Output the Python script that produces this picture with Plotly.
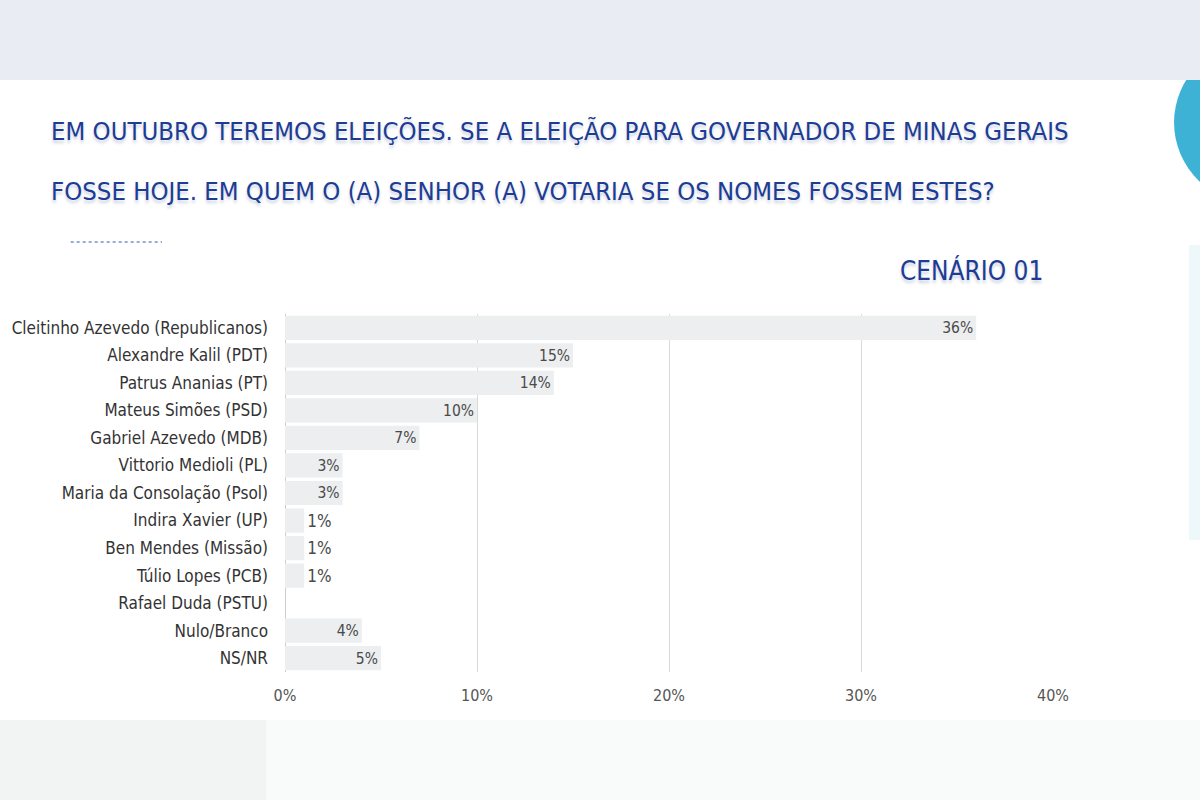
import plotly.graph_objects as go

categories = ["Cleitinho Azevedo (Republicanos)", "Alexandre Kalil (PDT)", "Patrus Ananias (PT)",
              "Mateus Simões (PSD)", "Gabriel Azevedo (MDB)", "Vittorio Medioli (PL)",
              "Maria da Consolação (Psol)", "Indira Xavier (UP)", "Ben Mendes (Missão)",
              "Túlio Lopes (PCB)", "Rafael Duda (PSTU)", "Nulo/Branco", "NS/NR"]
values = [36, 15, 14, 10, 7, 3, 3, 1, 1, 1, 0, 4, 5]
tick_vals = [0, 10, 20, 30, 40]
tick_text = ["0%", "10%", "20%", "30%", "40%"]

W, H = 1200, 800
L, R, T, B = 279, 1053, 314, 672
FONT = "DejaVu Sans Condensed, Liberation Sans Narrow, sans-serif"
BLUE = "#1d3c93"
SHADOW = "0px 3px 3px rgba(60,80,140,0.25)"

def px(x):
    return (x - L) / (R - L)

def py(y):
    return (B - y) / (B - T)

texts = [f"{v}%" if v > 0 else "" for v in values]
positions = ["outside" if v < 2 else "inside" for v in values]

fig = go.Figure(go.Bar(
    x=values, y=categories, orientation="h",
    marker=dict(color="#eceeef", line=dict(width=0)),
    text=texts, textposition=positions, insidetextanchor="end",
    textfont=dict(family=FONT, size=17, color="#4a4a4a"),
    cliponaxis=False,
))

shapes = [
    dict(type="circle", xref="paper", yref="paper", x0=px(1175), x1=px(1345), y0=py(40), y1=py(205),
         fillcolor="#3db2d4", line=dict(width=0), layer="below"),
    dict(type="rect", xref="paper", yref="paper", x0=px(-10), x1=px(1210), y0=py(-10), y1=py(80),
         fillcolor="#e9edf3", line=dict(width=0), layer="below"),
    dict(type="rect", xref="paper", yref="paper", x0=px(-10), x1=px(1210), y0=py(720), y1=py(810),
         fillcolor="#f9fafa", line=dict(width=0), layer="below"),
    dict(type="rect", xref="paper", yref="paper", x0=px(-10), x1=px(260), y0=py(720), y1=py(810),
         fillcolor="#f2f4f4", line=dict(width=0), layer="below"),
    dict(type="rect", xref="paper", yref="paper", x0=px(1190), x1=px(1230), y0=py(245), y1=py(540),
         fillcolor="#eef8fb", line=dict(width=0), layer="below"),
    dict(type="line", xref="paper", yref="paper", x0=px(63), x1=px(155), y0=py(242), y1=py(242),
         line=dict(color="#2f55b0", width=1, dash="dot")),
]

annotations = [
    dict(text="EM OUTUBRO TEREMOS ELEIÇÕES. SE A ELEIÇÃO PARA GOVERNADOR DE MINAS GERAIS",
         xref="paper", yref="paper", x=px(41), y=py(131), xanchor="left", yanchor="middle",
         showarrow=False, font=dict(family=FONT, size=25.5, color=BLUE, shadow=SHADOW)),
    dict(text="FOSSE HOJE. EM QUEM O (A) SENHOR (A) VOTARIA SE OS NOMES FOSSEM ESTES?",
         xref="paper", yref="paper", x=px(41), y=py(191), xanchor="left", yanchor="middle",
         showarrow=False, font=dict(family=FONT, size=25.5, color=BLUE, shadow=SHADOW)),
    dict(text="CENÁRIO 01",
         xref="paper", yref="paper", x=px(1045), y=py(270), xanchor="right", yanchor="middle",
         showarrow=False, font=dict(family=FONT, size=26, color=BLUE, shadow=SHADOW)),
]

fig.update_layout(
    width=W, height=H,
    margin=dict(l=L, r=W - R, t=T, b=H - B, pad=0),
    paper_bgcolor="#ffffff", plot_bgcolor="#ffffff",
    showlegend=False, bargap=0.12,
    shapes=shapes, annotations=annotations,
    xaxis=dict(range=[0, 40], tickvals=tick_vals, ticktext=tick_text,
               showgrid=True, gridcolor="#d9d9d9", gridwidth=1, zeroline=True,
               zerolinecolor="#cccccc", zerolinewidth=1, showline=False, ticks="",
               tickfont=dict(family=FONT, size=16, color="#555555"), ticklabelstandoff=12),
    yaxis=dict(autorange="reversed", showgrid=False, showline=False, ticks="",
               tickfont=dict(family=FONT, size=17, color="#333333"), ticklabelstandoff=16),
)

fig.write_html("out.html")
